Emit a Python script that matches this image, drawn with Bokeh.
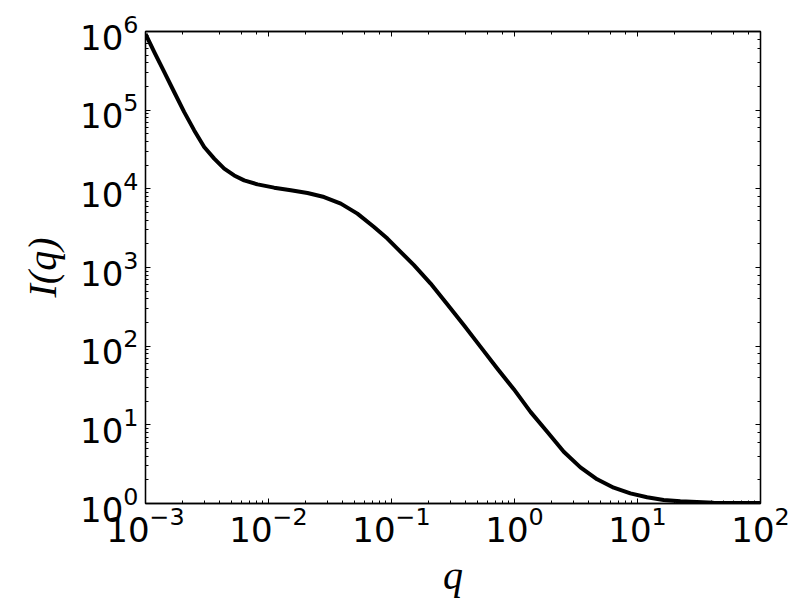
from bokeh.plotting import figure
from bokeh.models import LogAxis, CustomJSTickFormatter, Range1d
from bokeh.embed import file_html
from bokeh.resources import INLINE

q_values = [1.0e-3, 1.179e-3, 1.422e-3, 1.714e-3, 2.065e-3, 2.49e-3, 3.0e-3, 3.62e-3,
            4.365e-3, 5.26e-3, 6.34e-3, 8.15e-3, 1.111e-2, 1.519e-2, 2.075e-2, 2.83e-2,
            3.87e-2, 5.28e-2, 7.21e-2, 9.26e-2, 0.1116, 0.1522, 0.208, 0.284,
            0.388, 0.530, 0.724, 0.987, 1.349, 1.844, 2.515, 3.436,
            4.696, 6.41, 8.75, 11.96, 16.31, 22.3, 41.5, 100.0]
i_values = [9.3e5, 5.46e5, 3.04e5, 1.69e5, 9.45e4, 5.53e4, 3.40e4, 2.42e4,
            1.81e4, 1.48e4, 1.28e4, 1.14e4, 1.035e4, 9.57e3, 8.85e3, 7.87e3,
            6.49e3, 4.84e3, 3.27e3, 2.33e3, 1.74e3, 1.07e3, 625.0, 341.0,
            185.0, 98.0, 52.0, 28.4, 14.6, 8.16, 4.55, 2.88,
            2.03, 1.587, 1.347, 1.199, 1.108, 1.066, 1.024, 1.015]

x_label = "q"
y_label = "I(q)"

p = figure(width=800, height=600, x_axis_type="log", y_axis_type="log",
           x_range=Range1d(1e-3, 1e2), y_range=Range1d(1e0, 1e6),
           output_backend="svg", toolbar_location=None,
           min_border_left=145, min_border_right=40, min_border_top=31, min_border_bottom=97)

p.line(q_values, i_values, line_color="black", line_width=4, line_join="round")

p.xgrid.visible = False
p.ygrid.visible = False
p.outline_line_color = "black"
p.outline_line_width = 1.3
p.background_fill_color = "white"
p.border_fill_color = "white"

for ax in (p.xaxis[0], p.yaxis[0]):
    ax.major_tick_in = 5
    ax.major_tick_out = 0
    ax.minor_tick_in = 3
    ax.minor_tick_out = 0
    ax.axis_line_color = "black"
    ax.axis_line_width = 1.3
    ax.major_tick_line_color = "black"
    ax.minor_tick_line_color = "black"
    ax.major_label_text_font = "DejaVu Sans"
    ax.major_label_text_font_size = "34px"
    ax.major_label_text_color = "black"
    ax.axis_label_text_font = "Liberation Serif"
    ax.axis_label_text_font_style = "italic"
    ax.axis_label_text_font_size = "40px"
    ax.axis_label_text_color = "black"

p.xaxis.axis_label = x_label
p.yaxis.axis_label = y_label
p.xaxis.major_label_standoff = 2
p.yaxis.major_label_standoff = 7
p.xaxis.axis_label_standoff = 8
p.yaxis.axis_label_standoff = 12

blank = CustomJSTickFormatter(code="return ''")
for loc in ("above", "right"):
    a = LogAxis(formatter=blank)
    a.major_tick_in = 5
    a.major_tick_out = 0
    a.minor_tick_in = 3
    a.minor_tick_out = 0
    a.axis_line_color = "black"
    a.axis_line_width = 1.3
    a.major_label_text_font_size = "1px"
    a.major_label_standoff = 0
    p.add_layout(a, loc)

open("out.html", "w").write(file_html(p, INLINE))
